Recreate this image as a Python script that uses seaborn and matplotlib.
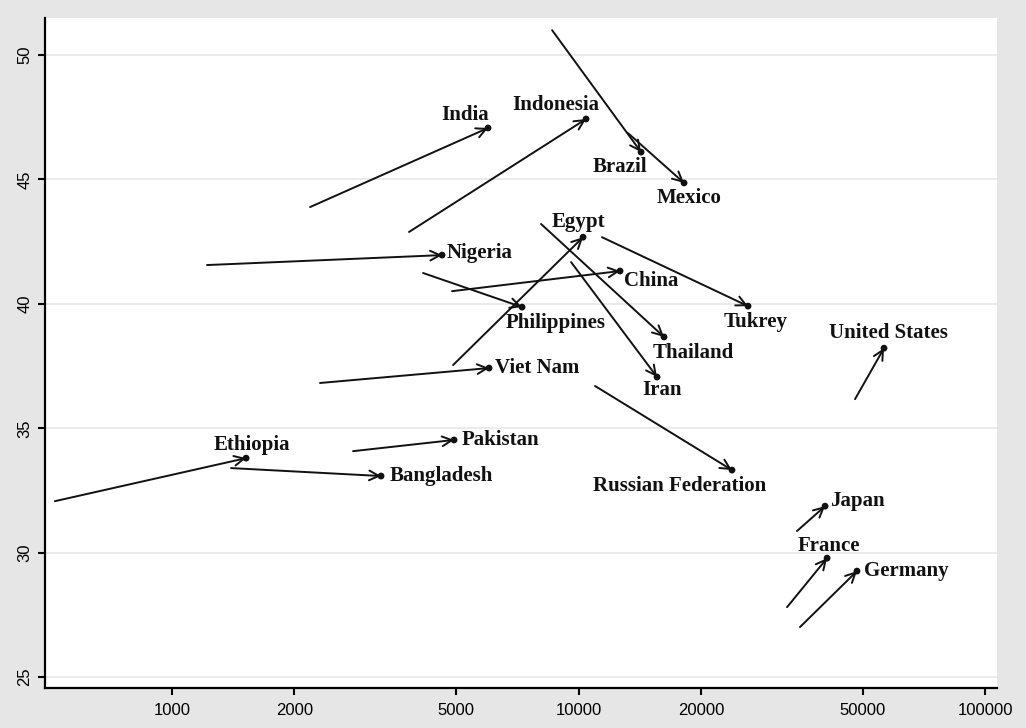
import numpy as np
import pandas as pd
import matplotlib
matplotlib.use("Agg")
import matplotlib.pyplot as plt
from matplotlib.ticker import FixedLocator, FixedFormatter, NullLocator
import seaborn as sns

# GDP per capita (x, log scale) and Gini-type index (y): start and end of each trajectory
countries = ["India", "Indonesia", "Brazil", "Mexico", "Nigeria", "China",
             "Philippines", "Egypt", "Thailand", "Iran", "Tukrey", "Viet Nam",
             "Russian Federation", "Ethiopia", "Bangladesh", "Pakistan",
             "United States", "Japan", "France", "Germany"]
x_start = [2185, 3828, 8608, 13240, 1219, 4885, 4145, 4913, 8088, 9585,
           11420, 2312, 10980, 515, 1397, 2788, 47880, 34470, 32580, 35060]
y_start = [43.89, 42.89, 51.0, 46.86, 41.56, 40.51, 41.24, 37.54, 43.21, 41.68,
           42.68, 36.82, 36.70, 32.07, 33.40, 34.08, 36.17, 30.87, 27.81, 27.01]
x_end = [5990, 10435, 14250, 18180, 4616, 12650, 7262, 10260, 16230, 15600,
         26120, 6024, 23850, 1521, 3267, 4940, 56430, 40410, 40870, 48420]
y_end = [47.07, 47.43, 46.10, 44.86, 41.96, 41.32, 39.87, 42.68, 38.67, 37.06,
         39.91, 37.42, 33.32, 33.80, 33.08, 34.53, 38.22, 31.87, 29.78, 29.26]

x_ticks = [1000, 2000, 5000, 10000, 20000, 50000, 100000]
x_tick_labels = ["1000", "2000", "5000", "10000", "20000", "50000", "100000"]
y_ticks = [25, 30, 35, 40, 45, 50]
y_tick_labels = ["25", "30", "35", "40", "45", "50"]

# label placement: (dx, dy) offset in pixels from the arrow tip, horizontal alignment
label_pos = {
    "India": (-23, 13, "center"),
    "Indonesia": (-30, 14, "center"),
    "Brazil": (-21, -15, "center"),
    "Mexico": (5, -15, "center"),
    "Nigeria": (5, 2, "left"),
    "China": (4, -10, "left"),
    "Philippines": (34, -16, "center"),
    "Egypt": (-5, 15, "center"),
    "Thailand": (29, -16, "center"),
    "Iran": (5, -13, "center"),
    "Tukrey": (8, -16, "center"),
    "Viet Nam": (6, 0, "left"),
    "Russian Federation": (-52, -16, "center"),
    "Ethiopia": (6, 13, "center"),
    "Bangladesh": (9, 0, "left"),
    "Pakistan": (8, 0, "left"),
    "United States": (4, 15, "center"),
    "Japan": (5, 5, "left"),
    "France": (2, 12, "center"),
    "Germany": (7, 0, "left"),
}

df = pd.DataFrame({"country": countries, "x0": x_start, "y0": y_start,
                   "x1": x_end, "y1": y_end})

sns.set_style("white")
plt.rcParams["font.family"] = ["Liberation Sans", "DejaVu Sans"]

fig = plt.figure(figsize=(10.26, 7.28), dpi=100, facecolor="#e6e6e6")
ax = fig.add_axes([0.0439, 0.0549, 0.9278, 0.9204])
ax.set_facecolor("white")

ax.set_xscale("log")
ax.set_xlim(487, 107000)
ax.set_ylim(24.56, 51.49)

# horizontal grid
for yv in y_ticks:
    ax.axhline(yv, color="#ebebeb", lw=1.4, zorder=0)

# arrows from start to end
for r in df.itertuples():
    ax.annotate("", xy=(r.x1, r.y1), xytext=(r.x0, r.y0),
                arrowprops=dict(arrowstyle="->,head_length=0.7,head_width=0.35",
                                color="#111111", lw=1.4, shrinkA=0, shrinkB=0,
                                mutation_scale=10),
                zorder=2)

sns.scatterplot(data=df, x="x1", y="y1", ax=ax, color="#111111", s=24,
                edgecolor="none", zorder=3, legend=False)

for r in df.itertuples():
    dx, dy, ha = label_pos[r.country]
    ax.annotate(r.country, xy=(r.x1, r.y1), xytext=(dx, dy),
                textcoords="offset pixels", ha=ha, va="center",
                fontsize=15, fontweight="bold", family="Liberation Serif",
                color="#111111", zorder=4)

ax.xaxis.set_major_locator(FixedLocator(x_ticks))
ax.xaxis.set_major_formatter(FixedFormatter(x_tick_labels))
ax.xaxis.set_minor_locator(NullLocator())
ax.yaxis.set_major_locator(FixedLocator(y_ticks))
ax.yaxis.set_major_formatter(FixedFormatter(y_tick_labels))

for lab in ax.get_yticklabels():
    lab.set_rotation(90)
    lab.set_va("center")

ax.tick_params(axis="both", which="major", direction="out", length=5, width=1.5,
               color="black", labelsize=12, labelcolor="black", pad=4)
ax.tick_params(axis="x", pad=6)
ax.tick_params(left=True, bottom=True)

for side in ["top", "right"]:
    ax.spines[side].set_visible(False)
for side in ["left", "bottom"]:
    ax.spines[side].set_color("black")
    ax.spines[side].set_linewidth(1.6)

ax.set_xlabel("")
ax.set_ylabel("")

fig.savefig("out.png", dpi=100, facecolor=fig.get_facecolor())
